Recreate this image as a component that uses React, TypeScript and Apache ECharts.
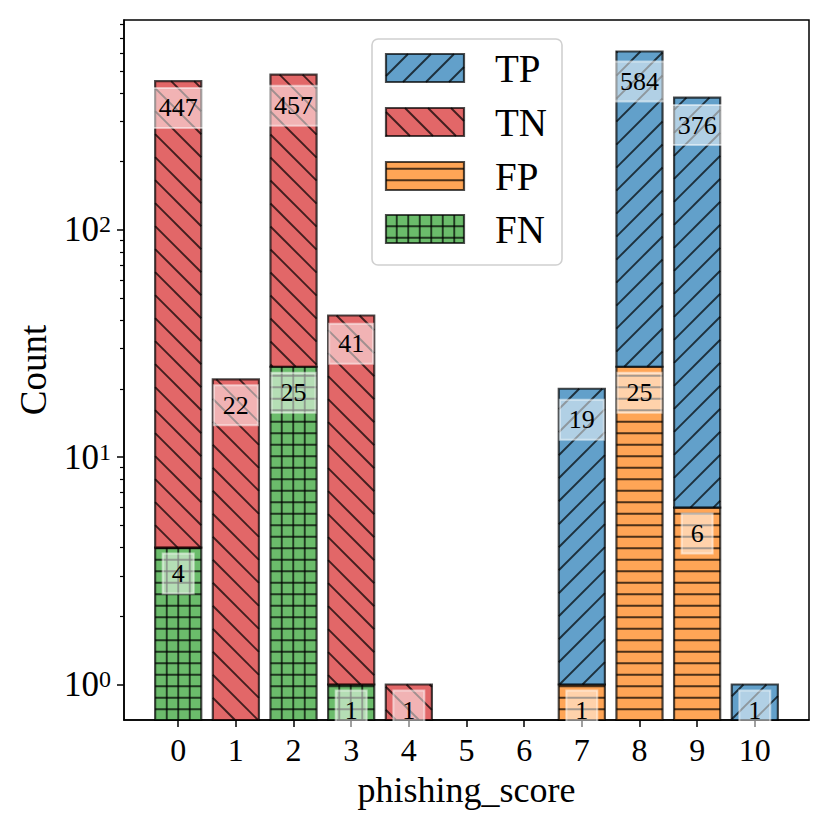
import React, { useEffect, useRef } from 'react';
import * as echarts from 'echarts';

// ---------------- data ----------------
const scores = [0, 1, 2, 3, 4, 5, 6, 7, 8, 9, 10];
const tpCounts = [0, 0, 0, 0, 0, 0, 0, 19, 584, 376, 1];
const tnCounts = [447, 22, 457, 41, 1, 0, 0, 0, 0, 0, 0];
const fpCounts = [0, 0, 0, 0, 0, 0, 0, 1, 25, 6, 0];
const fnCounts = [4, 0, 25, 1, 0, 0, 0, 0, 0, 0, 0];
const yMajorTicks = [1, 10, 100];
const yMinorTicks = [2, 3, 4, 5, 6, 7, 8, 9, 20, 30, 40, 50, 60, 70, 80, 90, 200, 300, 400, 500, 600, 700, 800];
const legendOrder = ['TP', 'TN', 'FP', 'FN'];
const stackOrder = ['FN', 'FP', 'TN', 'TP'];
const xAxisName = 'phishing_score';
const yAxisName = 'Count';

const countsByClass: Record<string, number[]> = { TP: tpCounts, TN: tnCounts, FP: fpCounts, FN: fnCounts };

// ---------------- style ----------------
const FONT = '"Liberation Serif", "Times New Roman", serif';
const Y_MIN = 0.698;
const Y_MAX = 838;
const X_MIN = -0.94;
const X_MAX = 10.94;
const BAR_WIDTH = 0.8;
const EDGE = 'rgba(0,0,0,0.7)';

const classStyle: Record<string, { color: string; hatch: string }> = {
  TP: { color: 'rgba(31,119,180,0.7)', hatch: 'ne' },
  TN: { color: 'rgba(214,39,40,0.7)', hatch: 'se' },
  FP: { color: 'rgba(255,127,14,0.7)', hatch: 'h' },
  FN: { color: 'rgba(44,160,44,0.7)', hatch: 'grid' },
};

// hatch line segments clipped to a pixel rect (pattern anchored to the page)
function hatchSegments(kind: string, x0: number, y0: number, x1: number, y1: number): number[][] {
  const segs: number[][] = [];
  if (kind === 'h' || kind === 'grid') {
    const s = 11.5, ph = 7.75;
    for (let y = ph + Math.ceil((y0 - ph) / s) * s; y <= y1; y += s) {
      if (y > y0 + 0.5 && y < y1 - 0.5) segs.push([x0, y, x1, y]);
    }
  }
  if (kind === 'grid') {
    const s = 11.5, ph = 5.75;
    for (let x = ph + Math.ceil((x0 - ph) / s) * s; x <= x1; x += s) {
      if (x > x0 + 0.5 && x < x1 - 0.5) segs.push([x, y0, x, y1]);
    }
  }
  if (kind === 'ne') {
    const s = 23, ph = 2;
    const cMin = x0 + y0, cMax = x1 + y1;
    for (let c = ph + Math.ceil((cMin - ph) / s) * s; c <= cMax; c += s) {
      const xs = Math.max(x0, c - y1), xe = Math.min(x1, c - y0);
      if (xe - xs > 0.3) segs.push([xs, c - xs, xe, c - xe]);
    }
  }
  if (kind === 'se') {
    const s = 23, ph = 21;
    const cMin = x0 - y1, cMax = x1 - y0;
    for (let c = ph + Math.ceil((cMin - ph) / s) * s; c <= cMax; c += s) {
      const xs = Math.max(x0, c + y0), xe = Math.min(x1, c + y1);
      if (xe - xs > 0.3) segs.push([xs, xs - c, xe, xe - c]);
    }
  }
  return segs;
}

function patchElements(cls: string, x0: number, y0: number, x1: number, y1: number, z?: number) {
  const st = classStyle[cls];
  const els: any[] = [];
  const zz = z === undefined ? {} : { z };
  els.push({
    type: 'rect',
    ...zz,
    shape: { x: x0, y: y0, width: x1 - x0, height: y1 - y0 },
    style: { fill: st.color, stroke: 'none' },
  });
  hatchSegments(st.hatch, x0, y0, x1, y1).forEach((s) => {
    els.push({
      type: 'line',
      ...zz,
      shape: { x1: s[0], y1: s[1], x2: s[2], y2: s[3] },
      style: { stroke: EDGE, lineWidth: 1.9 },
    });
  });
  els.push({
    type: 'rect',
    ...zz,
    shape: { x: x0, y: y0, width: x1 - x0, height: y1 - y0 },
    style: { fill: 'none', stroke: EDGE, lineWidth: 2.2 },
  });
  return els;
}

export default function App() {
  const ref = useRef<HTMLDivElement>(null);

  useEffect(() => {
    document.body.style.margin = '0';
    if (!ref.current) return;
    const chart = echarts.init(ref.current, undefined, { renderer: 'svg' });

    // stacked segments
    const cum = scores.map(() => 0);
    const barSeries: any[] = [];
    const labelData: number[][] = [];
    stackOrder.forEach((cls) => {
      const vals = countsByClass[cls];
      const data: number[][] = [];
      scores.forEach((s, i) => {
        const v = vals[i];
        if (v > 0) {
          data.push([s, cum[i], cum[i] + v, v]);
          labelData.push([s, v * 0.75, v]);
          cum[i] += v;
        }
      });
      barSeries.push({
        type: 'custom',
        name: cls,
        silent: true,
        encode: { x: 0, y: 2 },
        data,
        renderItem: (params: any, api: any) => {
          const x = api.value(0);
          const bottom = Math.max(api.value(1), Y_MIN);
          const top = api.value(2);
          const pTop = api.coord([x - BAR_WIDTH / 2, top]);
          const pBot = api.coord([x + BAR_WIDTH / 2, bottom]);
          return {
            type: 'group',
            children: patchElements(cls, pTop[0], pTop[1], pBot[0], pBot[1]),
          };
        },
      });
    });

    const labelSeries = {
      type: 'custom',
      name: 'labels',
      silent: true,
      z: 5,
      encode: { x: 0, y: 1 },
      data: labelData,
      renderItem: (params: any, api: any) => {
        const p = api.coord([api.value(0), api.value(1)]);
        return {
          type: 'text',
          x: p[0],
          y: p[1] - 2.5,
          style: {
            text: String(api.value(2)),
            fill: '#000',
            fontSize: 26,
            fontFamily: FONT,
            align: 'center',
            verticalAlign: 'middle',
            lineHeight: 20,
            padding: [10, 9, 10, 9],
            backgroundColor: 'rgba(255,255,255,0.5)',
            borderColor: 'rgba(255,255,255,0.5)',
            borderWidth: 1,
          },
        };
      },
    };

    // legend drawn as graphic
    const legendEls: any[] = [
      {
        type: 'rect',
        z: 10,
        shape: { x: 372, y: 39, width: 190, height: 226, r: 6 },
        style: { fill: 'rgba(255,255,255,0.8)', stroke: '#d0d0d0', lineWidth: 1.6 },
      },
    ];
    const rowY = [54, 108, 162, 215];
    legendOrder.forEach((cls, i) => {
      const y0 = rowY[i];
      patchElements(cls, 386, y0, 464, y0 + 28, 11).forEach((e) => legendEls.push(e));
      legendEls.push({
        type: 'text',
        z: 11,
        x: 495,
        y: y0 + 14,
        style: {
          text: cls,
          fill: '#000',
          fontSize: 39,
          fontFamily: FONT,
          align: 'left',
          verticalAlign: 'middle',
        },
      });
    });

    const option: any = {
      animation: false,
      backgroundColor: '#fff',
      grid: {
        left: 124,
        right: 21,
        top: 20,
        bottom: 110,
        show: true,
        borderColor: '#000',
        borderWidth: 1.5,
        backgroundColor: 'transparent',
      },
      xAxis: {
        type: 'value',
        min: X_MIN,
        max: X_MAX,
        name: xAxisName,
        nameLocation: 'middle',
        nameGap: 52,
        nameTextStyle: { fontSize: 36, fontFamily: FONT, color: '#000' },
        splitLine: { show: false },
        axisLine: { show: true, onZero: false, lineStyle: { color: '#000', width: 1.5 } },
        axisTick: { show: true, customValues: scores, length: 7, lineStyle: { color: '#000', width: 1.5 } },
        axisLabel: {
          customValues: scores,
          margin: 14,
          fontSize: 32,
          fontFamily: FONT,
          color: '#000',
          formatter: (v: number) => String(Math.round(v)),
        },
      },
      yAxis: [
        {
          type: 'log',
          logBase: 10,
          min: Y_MIN,
          max: Y_MAX,
          position: 'left',
          name: yAxisName,
          nameLocation: 'middle',
          nameGap: 72,
          nameTextStyle: { fontSize: 37, fontFamily: FONT, color: '#000' },
          splitLine: { show: false },
          minorTick: { show: false },
          axisLine: { show: true, onZero: false, lineStyle: { color: '#000', width: 1.5 } },
          axisTick: { show: true, customValues: yMajorTicks, length: 7, lineStyle: { color: '#000', width: 1.5 } },
          axisLabel: {
            customValues: yMajorTicks,
            margin: 13,
            formatter: (v: number) => `{b|10}{s|${Math.round(Math.log10(v))}}`,
            rich: {
              b: { fontSize: 35, fontFamily: FONT, color: '#000' },
              s: { fontSize: 24, fontFamily: FONT, color: '#000', verticalAlign: 'top' },
            },
          },
        },
        {
          type: 'log',
          logBase: 10,
          min: Y_MIN,
          max: Y_MAX,
          position: 'left',
          offset: 0,
          splitLine: { show: false },
          minorTick: { show: false },
          axisLine: { show: false, onZero: false },
          axisTick: { show: true, customValues: yMinorTicks, length: 4, lineStyle: { color: '#000', width: 1.2 } },
          axisLabel: { show: false },
        },
      ],
      graphic: { elements: legendEls },
      series: [...barSeries, labelSeries],
    };

    chart.setOption(option);
    return () => chart.dispose();
  }, []);

  return <div ref={ref} style={{ width: 830, height: 830 }} />;
}
